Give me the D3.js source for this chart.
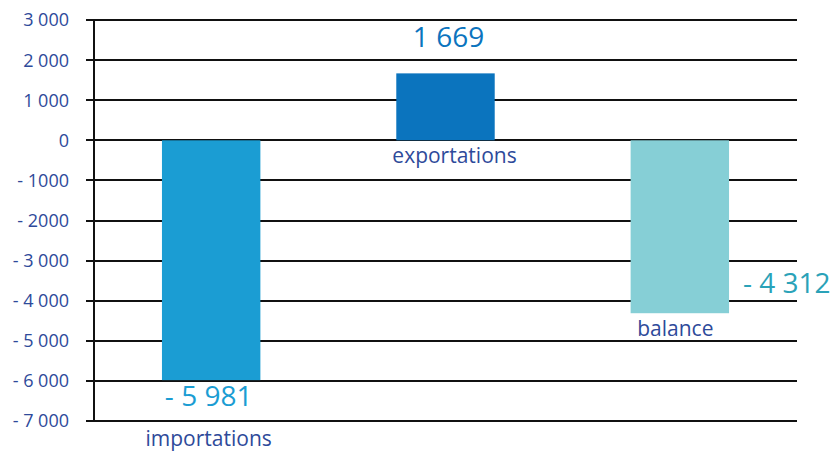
<!DOCTYPE html>
<html><head><meta charset="utf-8">
<script src="https://cdn.jsdelivr.net/npm/d3@7"></script>
<style>body{margin:0;background:#fff}svg{display:block}text{font-family:"Open Sans",sans-serif}</style>
</head><body>
<svg id="c" width="831" height="452"></svg>
<script>
const categories = ["importations", "exportations", "balance"];
const values = [-5981, 1669, -4312];
const valueLabels = ["- 5 981", "1 669", "- 4 312"];
const tickValues = [3000, 2000, 1000, 0, -1000, -2000, -3000, -4000, -5000, -6000, -7000];
const tickLabels = ["3 000", "2 000", "1 000", "0", "- 1000", "- 2000", "- 3 000", "- 4 000", "- 5 000", "- 6 000", "- 7 000"];
const barColors = ["#1b9dd3", "#0b74be", "#86cfd6"];
const valueColors = ["#1b9dd3", "#0b74be", "#2aa2b8"];

const svg = d3.select("#c");
const mLeft = 94, mRight = 797, mTop = 20, mBottom = 421;
const y = d3.scaleLinear().domain([-7000, 3000]).range([mBottom, mTop]);
const x = d3.scaleBand().domain(categories).range([mLeft, mRight]).paddingInner(0.58).paddingOuter(0.29);

// gridlines
svg.append("g").selectAll("line").data(tickValues).join("line")
  .attr("x1", mLeft - 8).attr("x2", mRight)
  .attr("y1", d => Math.round(y(d))).attr("y2", d => Math.round(y(d)))
  .attr("stroke", "#111").attr("stroke-width", 2);

// axis line
svg.append("line").attr("x1", mLeft).attr("x2", mLeft).attr("y1", y(3000)).attr("y2", y(-7000))
  .attr("stroke", "#111").attr("stroke-width", 2);

// tick labels
svg.append("g").selectAll("text").data(tickValues).join("text")
  .attr("x", 69).attr("y", d => y(d)).attr("dy", "0.36em")
  .attr("text-anchor", "end").attr("font-size", 18).attr("fill", "#2e4a9a")
  .text((d, i) => tickLabels[i]);

// bars
svg.append("g").selectAll("rect").data(values).join("rect")
  .attr("x", (d, i) => x(categories[i]))
  .attr("width", x.bandwidth())
  .attr("y", d => y(Math.max(0, d)))
  .attr("height", d => Math.abs(y(d) - y(0)))
  .attr("fill", (d, i) => barColors[i]);

// value labels
const vpos = [
  {dx: -2.5, anchor: "middle", y: d => y(d) + 25.5},
  {dx: 3, anchor: "middle", y: d => y(d) - 26},
  {dx: x.bandwidth() / 2 + 14, anchor: "start", y: d => y(d) - 20}
];
svg.append("g").selectAll("text").data(values).join("text")
  .attr("x", (d, i) => x(categories[i]) + x.bandwidth() / 2 + vpos[i].dx)
  .attr("y", (d, i) => vpos[i].y(d))
  .attr("text-anchor", (d, i) => vpos[i].anchor)
  .attr("font-size", 28).attr("fill", (d, i) => valueColors[i])
  .text((d, i) => valueLabels[i]);

// category labels
const cpos = [
  {dx: -2.5, y: d => y(d) + 66},
  {dx: 9, y: d => y(0) + 23},
  {dx: -4.5, y: d => y(d) + 23}
];
svg.append("g").selectAll("text").data(values).join("text")
  .attr("x", (d, i) => x(categories[i]) + x.bandwidth() / 2 + cpos[i].dx)
  .attr("y", (d, i) => cpos[i].y(d))
  .attr("text-anchor", "middle")
  .attr("font-size", 21).attr("fill", "#2e4a9a")
  .text((d, i) => categories[i]);
</script>
</body></html>
